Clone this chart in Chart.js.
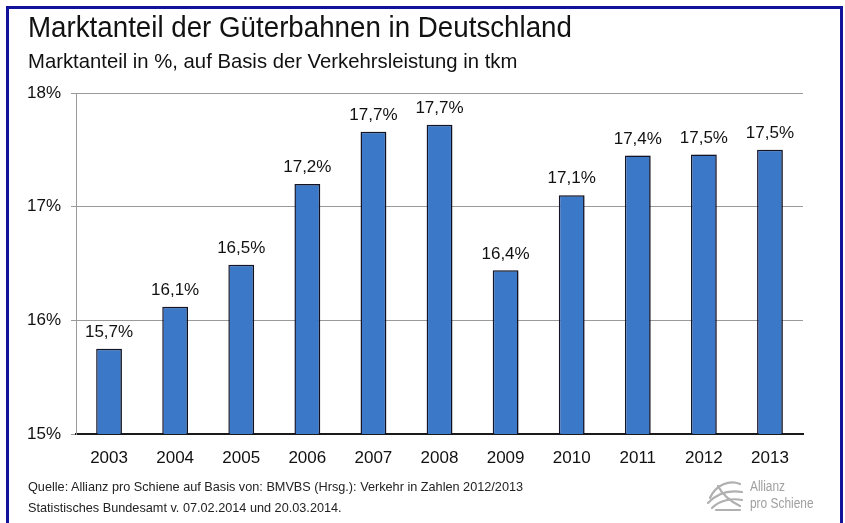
<!DOCTYPE html>
<html>
<head>
<meta charset="utf-8">
<script src="https://cdn.jsdelivr.net/npm/chart.js@4.4.1/dist/chart.umd.min.js"></script>
<style>
    body { margin: 0; background: #fff; font-family: "Liberation Sans", Arial, sans-serif; }
    #wrap { position: relative; width: 845px; height: 523px; overflow: hidden; }
    #frame { position: absolute; left: 6px; top: 6px; width: 837px; height: 530px; border: 3px solid #12129a; box-sizing: border-box; }
    .txt { position: absolute; white-space: nowrap; color: #111; transform-origin: 0 0; }
    #title { left: 28px; top: 10px; font-size: 30px; transform: scaleX(0.924); }
    #subtitle { left: 28px; top: 49px; font-size: 21px; transform: scaleX(0.966); }
    .src { left: 28px; font-size: 12.7px; color: #222; }
    #logo { left: 750px; top: 478px; font-size: 14px; color: #a0a0a0; line-height: 17px; transform: scaleX(0.85); }
    #logoIcon { position: absolute; left: 706px; top: 478px; }
    #chart { position: absolute; left: 0; top: 0; }
</style>
</head>
<body>
<div id="wrap">
    <canvas id="chart" width="845" height="523"></canvas>
    <div id="frame"></div>
    <div class="txt" id="title">Marktanteil der Güterbahnen in Deutschland</div>
    <div class="txt" id="subtitle">Marktanteil in %, auf Basis der Verkehrsleistung in tkm</div>
    <div class="txt src" style="top: 480px;">Quelle: Allianz pro Schiene auf Basis von: BMVBS (Hrsg.): Verkehr in Zahlen 2012/2013</div>
    <div class="txt src" style="top: 501px;">Statistisches Bundesamt v. 07.02.2014 und 20.03.2014.</div>
    <svg id="logoIcon" width="38" height="34" viewBox="0 0 38 34" fill="none" stroke="#b0b0b0" stroke-width="2.2" stroke-linecap="round">
        <path d="M4 20 C10 6, 24 2, 34 6"/>
        <path d="M2 25 C12 14, 24 12, 36 14"/>
        <path d="M6 30 C14 22, 26 20, 36 22"/>
        <path d="M12 8 C16 16, 22 22, 34 28"/>
        <path d="M10 32 L34 32"/>
    </svg>
    <div class="txt" id="logo">Allianz<br>pro Schiene</div>
</div>
<script>
    // Data
    const years = ['2003', '2004', '2005', '2006', '2007', '2008', '2009', '2010', '2011', '2012', '2013'];
    const marketShare = [15.75, 16.12, 16.49, 17.2, 17.66, 17.72, 16.44, 17.1, 17.45, 17.46, 17.5];
    const shareLabels = ['15,7%', '16,1%', '16,5%', '17,2%', '17,7%', '17,7%', '16,4%', '17,1%', '17,4%', '17,5%', '17,5%'];
    const yTicks = [15, 16, 17, 18];

    const font = "'Liberation Sans', Arial, sans-serif";

    // value labels above the bars
    const valueLabels = {
        id: 'valueLabels',
        afterDatasetsDraw(chart) {
            const ctx = chart.ctx;
            const meta = chart.getDatasetMeta(0);
            ctx.save();
            ctx.font = `17px ${font}`;
            ctx.fillStyle = '#111';
            ctx.textAlign = 'center';
            ctx.textBaseline = 'bottom';
            meta.data.forEach((bar, i) => {
                ctx.fillText(shareLabels[i], bar.x, bar.y - 8);
            });
            ctx.restore();
        }
    };

    // soft shadow behind bars
    const barShadow = {
        id: 'barShadow',
        beforeDatasetsDraw(chart) {
            chart.ctx.save();
            chart.ctx.shadowColor = 'rgba(0,0,0,0.25)';
            chart.ctx.shadowOffsetX = 3;
            chart.ctx.shadowOffsetY = 0;
            chart.ctx.shadowBlur = 3;
        },
        afterDatasetsDraw(chart) {
            chart.ctx.restore();
        }
    };

    const barFill = (context) => {
        const el = context.element;
        if (!el || el.width === undefined) return '#3b78c8';
        const x0 = el.x - el.width / 2;
        const g = context.chart.ctx.createLinearGradient(x0, 0, x0 + el.width, 0);
        g.addColorStop(0, '#3068b6');
        g.addColorStop(0.45, '#4784d2');
        g.addColorStop(1, '#3068b6');
        return g;
    };

    new Chart(document.getElementById('chart'), {
        type: 'bar',
        data: {
            labels: years,
            datasets: [{
                data: marketShare,
                backgroundColor: barFill,
                borderColor: '#15152a',
                borderWidth: 1.5,
                borderSkipped: 'bottom',
                barPercentage: 0.39,
                categoryPercentage: 1
            }]
        },
        options: {
            responsive: false,
            animation: false,
            layout: { padding: { top: 93, right: 42, bottom: 49, left: 0 } },
            plugins: { legend: { display: false }, tooltip: { enabled: false } },
            scales: {
                x: {
                    grid: { display: false, drawTicks: false },
                    border: { color: '#1a1a1a', width: 2 },
                    ticks: { color: '#111', font: { family: font, size: 17 }, padding: 14 },
                    afterFit(scale) { scale.height = 40; }
                },
                y: {
                    min: 15,
                    max: 18,
                    afterBuildTicks(scale) { scale.ticks = yTicks.map(v => ({ value: v })); },
                    grid: { color: '#9a9a9a', lineWidth: 1, tickLength: 5 },
                    border: { color: '#9a9a9a', width: 1 },
                    ticks: {
                        color: '#111',
                        font: { family: font, size: 17 },
                        padding: 10,
                        callback: v => v + '%'
                    },
                    afterFit(scale) { scale.width = 76; }
                }
            }
        },
        plugins: [barShadow, valueLabels]
    });
</script>
</body>
</html>
